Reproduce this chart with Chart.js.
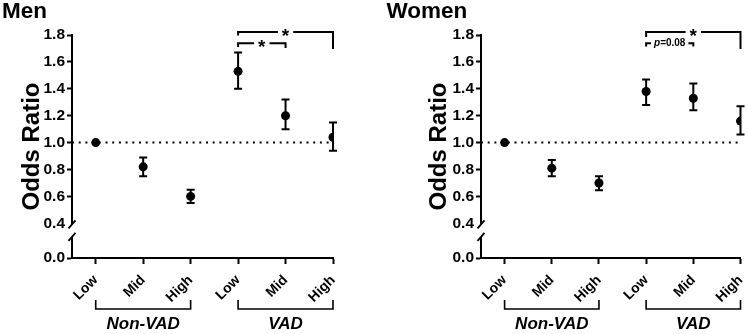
<!DOCTYPE html>
<html><head><meta charset="utf-8">
<script src="https://cdn.jsdelivr.net/npm/chart.js@4.4.1/dist/chart.umd.min.js"></script>
<style>
html,body{margin:0;padding:0;background:#fff;}
#wrap{position:relative;width:747px;height:334px;overflow:hidden;background:#fff;}
.box{position:absolute;top:0;width:373px;height:334px;}
canvas{display:block;}
</style></head><body>
<div id="wrap">
<div class="box" style="left:0"><canvas id="men" width="373" height="334"></canvas></div>
<div class="box" style="left:374px"><canvas id="women" width="373" height="334"></canvas></div>
</div>
<script>
// ---- data ----
const CATEGORIES = ['Low', 'Mid', 'High', 'Low', 'Mid', 'High'];
const GROUP_NAMES = ['Non-VAD', 'VAD'];
const GROUP_START = [0, 3];
const GROUP_END = [2, 5];

const MEN_OR = [1.00, 0.82, 0.60, 1.53, 1.20, 1.04];
const MEN_LO = [1.00, 0.75, 0.55, 1.40, 1.10, 0.94];
const MEN_HI = [1.00, 0.89, 0.65, 1.67, 1.32, 1.15];

const WOMEN_OR = [1.00, 0.81, 0.70, 1.38, 1.33, 1.16];
const WOMEN_LO = [1.00, 0.75, 0.645, 1.28, 1.24, 1.06];
const WOMEN_HI = [1.00, 0.87, 0.75, 1.47, 1.44, 1.27];

const Y_TICKS = [0.0, 0.4, 0.6, 0.8, 1.0, 1.2, 1.4, 1.6, 1.8];
const Y_TICK_LABELS = ['0.0', '0.4', '0.6', '0.8', '1.0', '1.2', '1.4', '1.6', '1.8'];
const REFERENCE_OR = 1.0;

// significance comparisons (first = outer bracket, second = inner bracket)
const MEN_SIG_FROM = [3, 3];
const MEN_SIG_TO = [5, 4];
const MEN_SIG_LABEL = ['*', '*'];
const WOMEN_SIG_FROM = [3, 3];
const WOMEN_SIG_TO = [5, 4];
const WOMEN_SIG_LABEL = ['*', 'p=0.08'];

// ---- axis break transform (0.0 drawn just below the 0.4 break) ----
const BREAK_AT = 0.4;
const BREAK_SHIFT = 0.142;
const toDisp = v => (v < BREAK_AT - 1e-9 ? v + BREAK_SHIFT : v);

const FAMILY = 'Arial, "Liberation Sans", Helvetica, sans-serif';

function makeChart(canvasId, opts) {
  const orData = opts.or.map((v, i) => ({x: i, y: v}));
  const refData = [{x: -0.5, y: REFERENCE_OR}, {x: CATEGORIES.length - 1, y: REFERENCE_OR}];

  const custom = {
    id: 'custom_' + canvasId,
    beforeDatasetsDraw(chart) {
      const ctx = chart.ctx, xs = chart.scales.x, ys = chart.scales.y;
      ctx.save();
      ctx.strokeStyle = '#000';
      ctx.lineWidth = 2;
      ctx.lineCap = 'butt';
      for (let i = 0; i < opts.or.length; i++) {
        if (opts.lo[i] === opts.hi[i]) continue;
        const x = xs.getPixelForValue(i);
        const y1 = ys.getPixelForValue(opts.hi[i]);
        const y2 = ys.getPixelForValue(opts.lo[i]);
        ctx.beginPath();
        ctx.moveTo(x, y1); ctx.lineTo(x, y2);
        ctx.moveTo(x - 4, y1); ctx.lineTo(x + 4, y1);
        ctx.moveTo(x - 4, y2); ctx.lineTo(x + 4, y2);
        ctx.stroke();
      }
      ctx.restore();
    },
    afterDraw(chart) {
      const ctx = chart.ctx, xs = chart.scales.x, ys = chart.scales.y;
      const area = chart.chartArea;
      ctx.save();
      // panel title
      ctx.fillStyle = '#000';
      ctx.font = 'bold 22.5px ' + FAMILY;
      ctx.textAlign = 'left';
      ctx.textBaseline = 'alphabetic';
      ctx.fillText(opts.title, opts.titleX, 18);

      // axis break
      const ax = area.left;
      const p04 = ys.getPixelForValue(BREAK_AT);
      const s1 = p04 + 1, s2 = p04 + 13.5;
      ctx.fillStyle = '#fff';
      ctx.fillRect(ax - 3, s1, 6, s2 - s1);
      ctx.strokeStyle = '#000';
      ctx.lineWidth = 1.8;
      ctx.beginPath();
      ctx.moveTo(ax - 3.5, s1 + 4); ctx.lineTo(ax + 3.5, s1 - 4);
      ctx.moveTo(ax - 3.5, s2 + 4); ctx.lineTo(ax + 3.5, s2 - 4);
      ctx.stroke();

      // significance brackets
      ctx.lineWidth = 2;
      for (let k = 0; k < opts.sigFrom.length; k++) {
        const xa = xs.getPixelForValue(opts.sigFrom[k]);
        const xb = xs.getPixelForValue(opts.sigTo[k]);
        const outer = k === 0;
        const yLine = outer ? area.top - 3 : area.top + 8.3;
        const yL = outer ? area.top + (opts.title === 'Men' ? 0.5 : 2) : area.top + (opts.title === 'Men' ? 12 : 11.5);
        const yR = outer ? area.top + 14 : area.top + (opts.title === 'Men' ? 13 : 11.5);
        const label = opts.sigLabel[k];
        const xm = (xa + xb) / 2;
        let w, pad;
        if (label === '*') {
          ctx.font = 'bold 19px ' + FAMILY;
          w = ctx.measureText('*').width;
          pad = 4;
        } else {
          ctx.font = 'italic bold 10px ' + FAMILY;
          const wp = ctx.measureText('p').width;
          ctx.font = 'bold 10px ' + FAMILY;
          w = wp + ctx.measureText(label.slice(1)).width;
          pad = 3;
        }
        ctx.beginPath();
        ctx.moveTo(xa, yL); ctx.lineTo(xa, yLine); ctx.lineTo(xm - w / 2 - pad, yLine);
        ctx.moveTo(xm + w / 2 + pad, yLine); ctx.lineTo(xb, yLine); ctx.lineTo(xb, yR);
        ctx.stroke();
        ctx.fillStyle = '#000';
        if (label === '*') {
          ctx.font = 'bold 19px ' + FAMILY;
          ctx.textAlign = 'center';
          ctx.textBaseline = 'alphabetic';
          ctx.fillText('*', xm, yLine + 10);
        } else {
          ctx.textBaseline = 'middle';
          ctx.textAlign = 'left';
          let x0 = xm - w / 2;
          ctx.font = 'italic bold 10px ' + FAMILY;
          ctx.fillText('p', x0, yLine);
          x0 += ctx.measureText('p').width;
          ctx.font = 'bold 10px ' + FAMILY;
          ctx.fillText(label.slice(1), x0, yLine);
        }
      }

      // group brackets and names below the axis
      ctx.lineWidth = 1.6;
      ctx.strokeStyle = '#000';
      for (let g = 0; g < GROUP_NAMES.length; g++) {
        const xa = xs.getPixelForValue(GROUP_START[g]);
        const xb = xs.getPixelForValue(GROUP_END[g]);
        const yT = area.bottom + 42, yB = area.bottom + 51;
        ctx.beginPath();
        ctx.moveTo(xa, yT); ctx.lineTo(xa, yB); ctx.lineTo(xb, yB); ctx.lineTo(xb, yT);
        ctx.stroke();
        ctx.font = 'italic bold 17px ' + FAMILY;
        ctx.fillStyle = '#000';
        ctx.textAlign = 'center';
        ctx.textBaseline = 'alphabetic';
        ctx.fillText(GROUP_NAMES[g], (xa + xb) / 2, area.bottom + 71);
      }
      ctx.restore();
    }
  };

  return new Chart(document.getElementById(canvasId), {
    type: 'scatter',
    data: {
      datasets: [
        {
          data: refData, showLine: true, borderColor: '#000', borderWidth: 2,
          borderDash: [2, 4.7], pointRadius: 0, order: 2, borderCapStyle: 'butt'
        },
        {
          data: orData, pointRadius: 4.5, pointHoverRadius: 4.5,
          backgroundColor: '#000', borderColor: '#000', borderWidth: 0, order: 1
        }
      ]
    },
    options: {
      responsive: false,
      animation: false,
      devicePixelRatio: 1,
      layout: {padding: {left: 0, top: 35, right: opts.padRight, bottom: 0}},
      plugins: {legend: {display: false}, tooltip: {enabled: false}, title: {display: false}},
      scales: {
        x: {
          type: 'linear', min: -0.5, max: CATEGORIES.length - 1,
          afterBuildTicks: s => { s.ticks = CATEGORIES.map((c, i) => ({value: i})); },
          afterFit: s => { s.height = 76; s.paddingLeft = 0; s.paddingRight = 0; },
          ticks: {
            callback: (v, i) => CATEGORIES[i], autoSkip: false,
            maxRotation: 45, minRotation: 45, color: '#000', padding: 8,
            font: {family: FAMILY, size: 14, weight: 'bold'}
          },
          grid: {display: true, drawOnChartArea: false, drawTicks: true, tickLength: 6, tickWidth: 2, tickColor: '#000', color: '#000'},
          border: {display: true, color: '#000', width: 2}
        },
        y: {
          type: 'linear', min: toDisp(0), max: 1.8,
          afterBuildTicks: s => { s.ticks = Y_TICKS.map(v => ({value: toDisp(v)})); },
          afterFit: s => { s.width = opts.yWidth; },
          ticks: {
            callback: (v, i) => Y_TICK_LABELS[i], color: '#000', padding: 2,
            font: {family: FAMILY, size: 15.5, weight: 'bold'}
          },
          grid: {
            display: true, drawOnChartArea: false, drawTicks: true, tickLength: 5, tickWidth: 2,
            tickColor: c => (c.tick && Math.abs(c.tick.value - BREAK_AT) < 1e-6 ? 'rgba(0,0,0,0)' : '#000'),
            color: '#000'
          },
          border: {display: true, color: '#000', width: 2},
          title: {
            display: true, text: 'Odds Ratio', color: '#000',
            font: {family: FAMILY, size: 24, weight: 'bold'},
            padding: {top: opts.titlePad, bottom: 0}
          }
        }
      }
    },
    plugins: [custom]
  });
}

makeChart('men', {
  title: 'Men', titleX: 2, or: MEN_OR, lo: MEN_LO, hi: MEN_HI,
  sigFrom: MEN_SIG_FROM, sigTo: MEN_SIG_TO, sigLabel: MEN_SIG_LABEL,
  yWidth: 72, padRight: 40, titlePad: 18
});
makeChart('women', {
  title: 'Women', titleX: 12.5, or: WOMEN_OR, lo: WOMEN_LO, hi: WOMEN_HI,
  sigFrom: WOMEN_SIG_FROM, sigTo: WOMEN_SIG_TO, sigLabel: WOMEN_SIG_LABEL,
  yWidth: 107, padRight: 6.5, titlePad: 51
});
</script>
</body></html>
